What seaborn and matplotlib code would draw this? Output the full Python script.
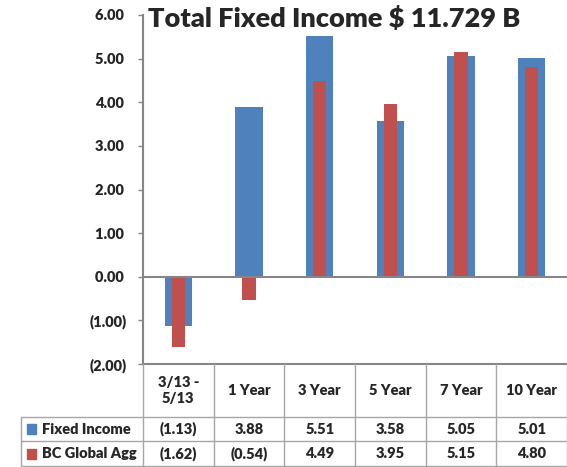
import numpy as np
import matplotlib
matplotlib.use("Agg")
import matplotlib.pyplot as plt
import seaborn as sns
from matplotlib.ticker import FuncFormatter

# ---------------------------------------------------------------------------
# Data
# ---------------------------------------------------------------------------
categories = ["3/13 -\n5/13", "1 Year", "3 Year", "5 Year", "7 Year", "10 Year"]
fixed_income = [-1.13, 3.88, 5.51, 3.58, 5.05, 5.01]
bc_global_agg = [-1.62, -0.54, 4.49, 3.95, 5.15, 4.80]
series_names = ["Fixed Income", "BC Global Agg"]
title = "Total Fixed Income $ 11.729 B"

BLUE = "#4F81BD"
RED = "#C0504D"
GRID = "#868686"
FS = 10.5
WT = "heavy"

sns.set_theme(style="white")
plt.rcParams["font.family"] = ["Lato", "DejaVu Sans"]
plt.rcParams["font.weight"] = WT

W, H = 567, 467
fig = plt.figure(figsize=(W / 100, H / 100), dpi=100)

# pixel layout
x_left, x_right = 143, 567
y_top, y_bot = 15, 364
ax = fig.add_axes([x_left / W, 1 - y_bot / H, (x_right - x_left) / W, (y_bot - y_top) / H])

sns.barplot(x=categories, y=fixed_income, color=BLUE, saturation=1,
            width=0.39, ax=ax, linewidth=0)
sns.barplot(x=categories, y=bc_global_agg, color=RED, saturation=1,
            width=0.185, ax=ax, linewidth=0)

ax.set_xlim(-0.5, 5.5)
ax.set_ylim(-2, 6)
ax.set_yticks(np.arange(-2, 7, 1))
ax.yaxis.set_major_formatter(FuncFormatter(
    lambda v, _: f"({abs(v):.2f})" if v < 0 else f"{v:.2f} "))
ax.tick_params(axis="y", direction="out", length=3.6, width=1, color=GRID,
               labelsize=FS, pad=8, left=True)
ax.set_xticks([])
ax.set_xlabel("")
ax.set_ylabel("")
for lbl in ax.get_yticklabels():
    lbl.set_fontweight(WT)
for side in ["top", "right", "bottom"]:
    ax.spines[side].set_visible(False)
ax.spines["left"].set_color(GRID)
ax.spines["left"].set_linewidth(1.5)
ax.axhline(0, color=GRID, linewidth=1.5, zorder=3)

fig.text(148 / W, 1 - 19 / H, title, fontsize=19.5, fontweight=WT,
         ha="left", va="center")

# ---------------------------------------------------------------------------
# Data table
# ---------------------------------------------------------------------------
col_w = (x_right - x_left) / 6
tx0 = 21
tab = fig.add_axes([tx0 / W, 0, (W - tx0) / W, (H - y_bot) / H])
tab.set_xlim(-0.5 - (x_left - tx0) / col_w, 5.5)
tab.set_ylim(H, y_bot)
tab.axis("off")

row_y = [y_bot, 417, 441, 466]
lx = -0.5 - (x_left - tx0) / col_w
lc = "#A6A6A6"
# top line of table (plot bottom)
tab.plot([-0.5, 5.5], [y_bot, y_bot], color=GRID, lw=1.5, clip_on=False)
for yy in row_y[1:]:
    tab.plot([lx, 5.5], [yy, yy], color=lc, lw=1, clip_on=False)
for i in range(7):
    xx = i - 0.5
    tab.plot([xx, xx], [y_bot, row_y[-1]], color=lc, lw=1, clip_on=False)
tab.plot([lx, lx], [row_y[1], row_y[-1]], color=lc, lw=1, clip_on=False)

for i, c in enumerate(categories):
    tab.text(i, (row_y[0] + row_y[1]) / 2, c, ha="center", va="center",
             fontsize=FS, fontweight=WT, linespacing=1.35)

fmt = lambda v: f"({abs(v):.2f})" if v < 0 else f"{v:.2f}"
for r, (name, vals, colr) in enumerate(zip(series_names,
                                           [fixed_income, bc_global_agg],
                                           [BLUE, RED])):
    yc = (row_y[r + 1] + row_y[r + 2]) / 2
    tab.add_patch(plt.Rectangle((lx + 6 / col_w, yc - 5), 9 / col_w, 10,
                                color=colr, clip_on=False))
    tab.text(lx + 21 / col_w, yc, name, ha="left", va="center",
             fontsize=FS, fontweight=WT)
    for i, v in enumerate(vals):
        tab.text(i, yc, fmt(v), ha="center", va="center",
                 fontsize=FS, fontweight=WT)

fig.savefig("out.png", dpi=100)
